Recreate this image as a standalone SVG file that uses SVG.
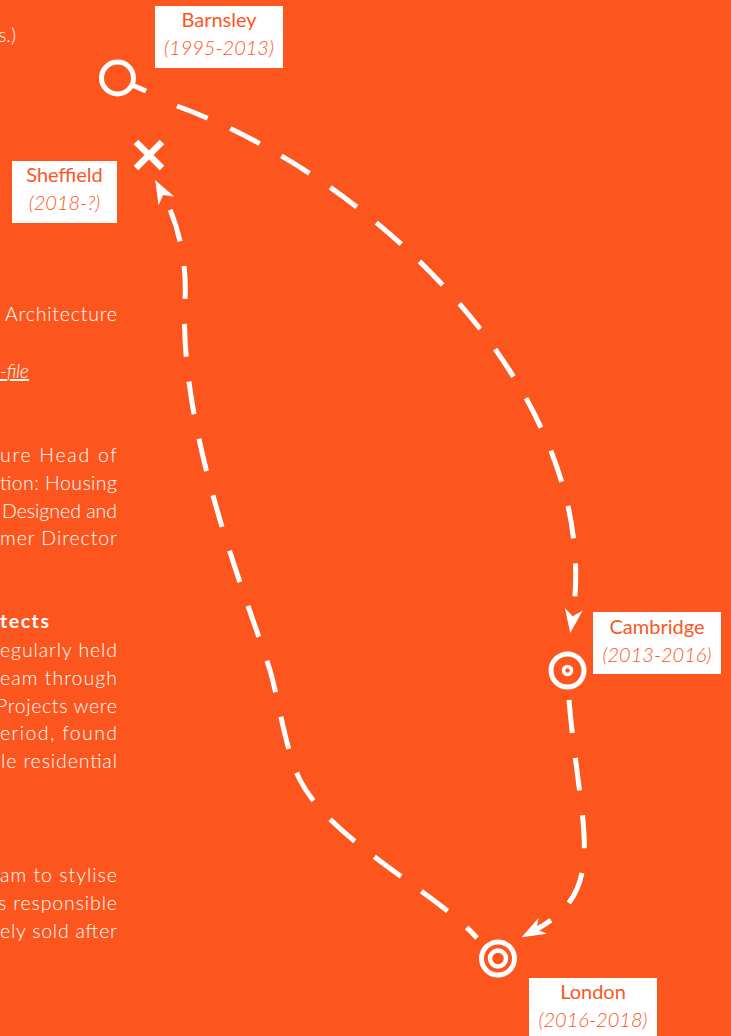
<svg xmlns="http://www.w3.org/2000/svg" width="731" height="1036" viewBox="0 0 731 1036">
  <defs>
    <style>
      .bg { fill: #fc561e; }
      .body { font-family: Lato, "Open Sans", "DejaVu Sans", sans-serif; font-size: 19.5px; fill: #ffffff; font-weight: 300; }
      .bold { font-weight: 700; }
      .ital { font-style: italic; }
      .lbox { fill: #ffffff; }
      .lname { font-family: Lato, "Open Sans", "DejaVu Sans", sans-serif; font-size: 20px; fill: #fc561e; text-anchor: middle; }
      .ldate { font-family: Lato, "Open Sans", "DejaVu Sans", sans-serif; font-size: 20px; fill: #fc561e; text-anchor: middle; font-style: italic; font-weight: 300; }
      .icon { fill: none; stroke: #ffffff; stroke-width: 5; }
      .cross { fill: none; stroke: #ffffff; stroke-width: 6.5; }
      .dot { fill: none; stroke: #ffffff; stroke-width: 3.5; }
      .ring { fill: none; stroke: #ffffff; stroke-width: 4.5; }
      .route { fill: none; stroke: #ffffff; stroke-width: 5; stroke-dasharray: 33 25; marker-end: url(#arrow); }
    </style>
    <marker id="arrow" markerUnits="userSpaceOnUse" orient="auto" refX="8" refY="0" markerWidth="30" markerHeight="30" overflow="visible">
      <path d="M24,0 L0,-9 L7,0 L0,9 Z" fill="#ffffff"/>
    </marker>
  </defs>

  <rect class="bg" x="0" y="0" width="731" height="1036"/>

  <g id="body-text">
    <text class="body" x="-2" y="42" textLength="18">s.)</text>
    <text class="body" x="5" y="321" textLength="112">Architecture</text>
    <text class="body ital" x="0" y="378" textLength="29" text-decoration="underline">-file</text>
    <text class="body" x="0" y="462" textLength="117" lengthAdjust="spacing">ure Head of</text>
    <text class="body" x="0" y="490" textLength="117" lengthAdjust="spacing">tion: Housing</text>
    <text class="body" x="2" y="518" textLength="115" lengthAdjust="spacing">Designed and</text>
    <text class="body" x="0" y="545" textLength="117" lengthAdjust="spacing">mer Director</text>
    <text class="body bold" x="0" y="628" textLength="49">tects</text>
    <text class="body" x="0" y="657" textLength="117" lengthAdjust="spacing">egularly held</text>
    <text class="body" x="0" y="685" textLength="117" lengthAdjust="spacing">eam through</text>
    <text class="body" x="-4" y="713" textLength="121" lengthAdjust="spacing">Projects were</text>
    <text class="body" x="0" y="740" textLength="117" lengthAdjust="spacing">eriod, found</text>
    <text class="body" x="1" y="768" textLength="116" lengthAdjust="spacing">le residential</text>
    <text class="body" x="0" y="882" textLength="117" lengthAdjust="spacing">am to stylise</text>
    <text class="body" x="-2" y="910" textLength="119" lengthAdjust="spacing">s responsible</text>
    <text class="body" x="0" y="938" textLength="117" lengthAdjust="spacing">ely sold after</text>
  </g>

  <g id="connectors">
    <path id="barnsley-cambridge" class="route" d="M177,106 C380,180 605,400 572.6,617.2"/>
    <path id="cambridge-london" class="route" d="M569,700 C580,830 610,890 535.7,929.7"/>
    <path id="london-sheffield" class="route" stroke-dashoffset="18" d="M477,938 C440,895 330,840 300,780 C285,750 278,695 269,667 C246.5,597 178,430 185,300 C186.6,270 182,230 162.7,194"/>
  </g>

  <g id="barnsley">
    <circle class="icon" cx="117.5" cy="78" r="16"/>
    <line class="icon" x1="132" y1="85" x2="146" y2="91"/>
    <rect class="lbox" x="155" y="6" width="128" height="62"/>
    <text class="lname" x="219" y="27">Barnsley</text>
    <text class="ldate" x="219" y="55">(1995-2013)</text>
  </g>

  <g id="sheffield">
    <path class="cross" d="M136,142 L162,168 M162,142 L136,168"/>
    <rect class="lbox" x="12" y="161" width="105" height="62"/>
    <text class="lname" x="64.5" y="182">Sheffield</text>
    <text class="ldate" x="64.5" y="210">(2018-?)</text>
  </g>

  <g id="cambridge">
    <circle class="icon" cx="567.5" cy="670.5" r="16.5"/>
    <circle class="dot" cx="567.5" cy="670.5" r="4"/>
    <rect class="lbox" x="593" y="612" width="128" height="62"/>
    <text class="lname" x="657" y="634">Cambridge</text>
    <text class="ldate" x="657" y="662">(2013-2016)</text>
  </g>

  <g id="london">
    <circle class="icon" cx="498" cy="958.5" r="16.5"/>
    <circle class="ring" cx="498" cy="958.5" r="8"/>
    <rect class="lbox" x="529" y="978" width="128" height="58"/>
    <text class="lname" x="593" y="999">London</text>
    <text class="ldate" x="593" y="1027">(2016-2018)</text>
  </g>
</svg>
